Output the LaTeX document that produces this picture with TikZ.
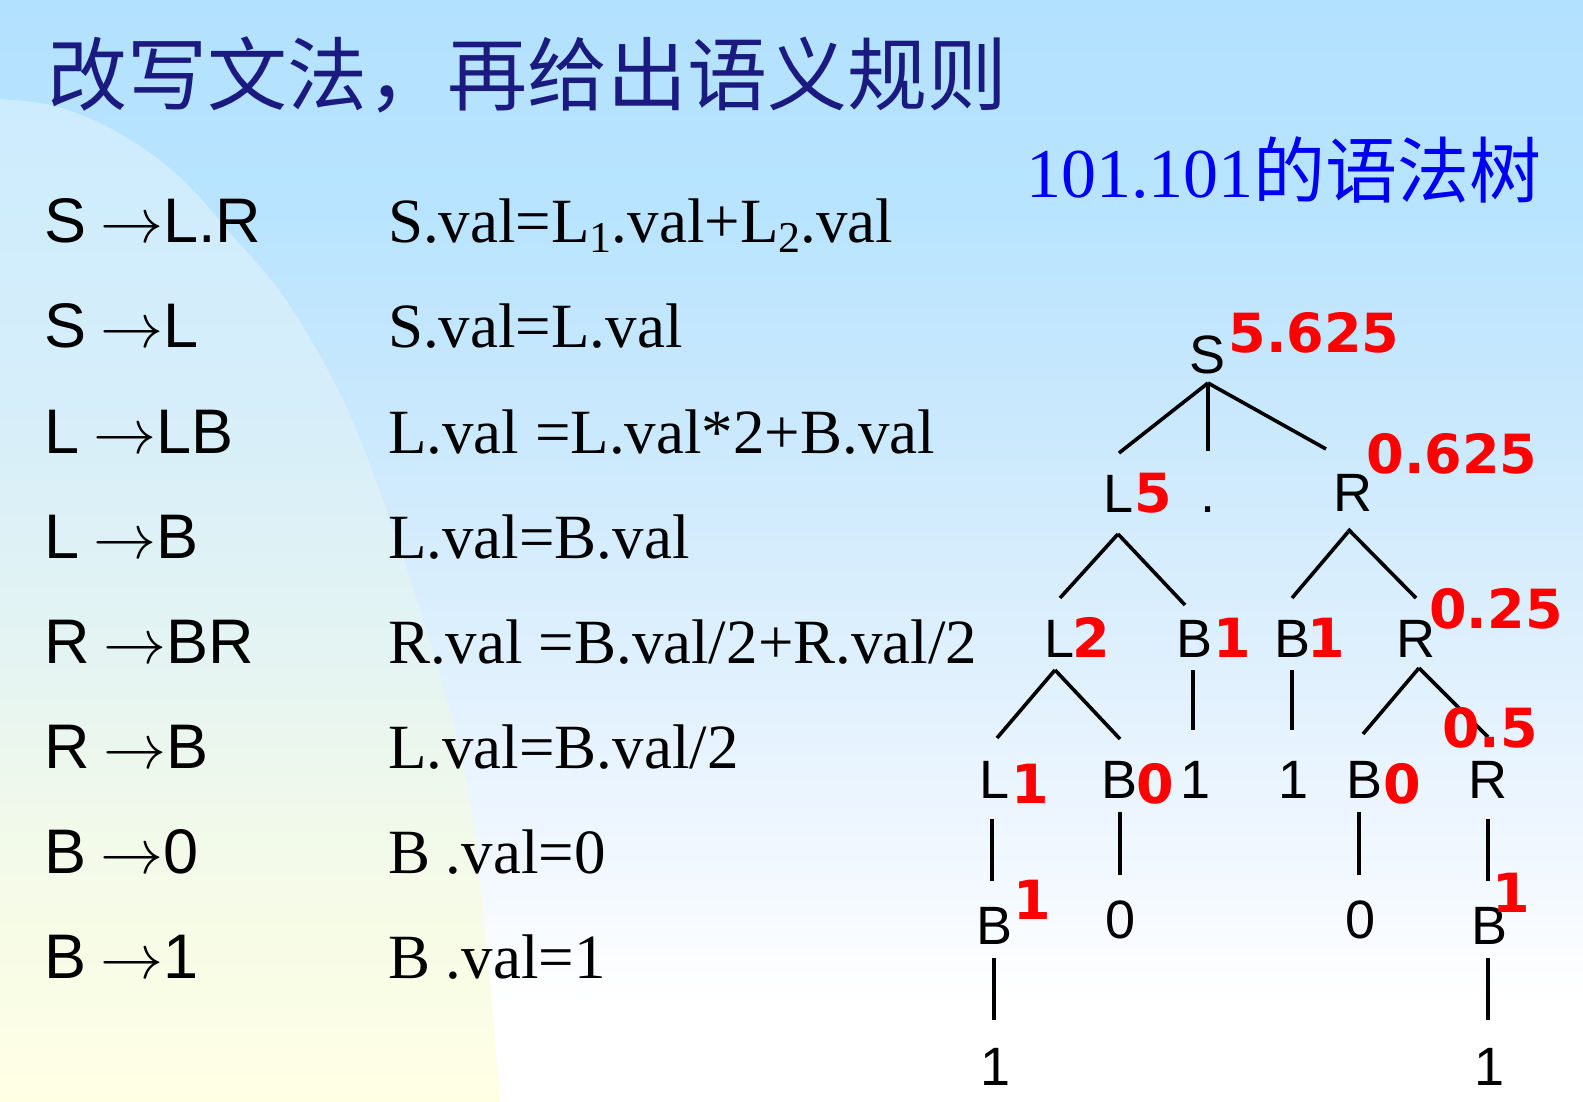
\documentclass[tikz,border=0pt]{standalone}
\usepackage{fontspec}
\setmainfont{Liberation Serif}
\newfontfamily\cjk{Noto Sans CJK SC}
\newfontfamily\arialf{Liberation Sans}
\newfontfamily\verdf{DejaVu Sans}
\usetikzlibrary{calc}
\definecolor{titlenavy}{RGB}{26,26,128}
\definecolor{treeblue}{RGB}{0,0,245}
\definecolor{bgG}{RGB}{178,225,255}
\definecolor{bgF}{RGB}{184,228,255}
\definecolor{bgE}{RGB}{200,232,253}
\definecolor{bgD}{RGB}{222,240,253}
\definecolor{bgC}{RGB}{240,247,255}
\definecolor{rgA}{RGB}{205,236,254}
\definecolor{rgB}{RGB}{214,238,250}
\definecolor{rgC}{RGB}{228,244,242}
\definecolor{rgD}{RGB}{243,250,233}
\definecolor{rgE}{RGB}{255,255,228}
\pgfdeclareverticalshading{bgshade}{100bp}{color(0bp)=(white); color(29.6bp)=(white); color(36.4bp)=(bgC); color(45.5bp)=(bgD); color(56.9bp)=(bgE); color(65.9bp)=(bgF); color(75bp)=(bgG); color(100bp)=(bgG)}
\pgfdeclareverticalshading{regshade}{100bp}{color(0bp)=(rgE); color(25bp)=(rgE); color(37.6bp)=(rgD); color(47.5bp)=(rgC); color(60bp)=(rgB); color(75bp)=(rgA); color(100bp)=(rgA)}
\newcommand{\subnum}[1]{\raisebox{-0.15em}{\fontsize{44}{44}\selectfont #1}}
\newcommand{\arr}{\hspace{0.22em}\scalebox{2.532}{\fontsize{24.88}{26}\selectfont$\rightarrow$}}
\tikzset{
  lhs/.style={anchor=base west, inner sep=0pt, font=\arialf\fontsize{63}{70}\selectfont},
  rhs/.style={anchor=base west, inner sep=0pt, font=\fontsize{63}{70}\selectfont},
  tl/.style={anchor=base, inner sep=0pt, font=\arialf\fontsize{54}{60}\selectfont},
  rv/.style={anchor=base, inner sep=0pt, text=red, font=\verdf\bfseries\fontsize{54}{60}\selectfont},
  treeline/.style={line width=3.6pt, black},
}
\begin{document}
\begin{tikzpicture}[x=1pt,y=-1pt]
\useasboundingbox (0,0) rectangle (1583,1102);
\shade[shading=bgshade] (0,0) rectangle (1583,1102);
\shade[shading=regshade] plot[smooth,tension=0.6] coordinates {(0,99) (50,105) (100,123) (150,153) (190,187) (230,233) (286,300) (343,400) (383,500) (417,600) (447,700) (470,800) (487,950) (500,1102)} -- (0,1102) -- cycle;

% titles
\node[anchor=west, inner sep=0pt, text=titlenavy, font=\cjk\fontsize{80}{90}\selectfont] (title) at (47,75) {改写文法，再给出语义规则};
\node[anchor=base west, inner sep=0pt, text=treeblue, font=\fontsize{70}{80}\selectfont] (treetitle) at (1026,198) {101.101{\cjk\fontsize{72}{80}\selectfont 的语法树}};

% productions
\node[lhs] (p1) at (44,243) {S\arr L.R};
\node[lhs] (p2) at (44,347) {S\arr L};
\node[lhs] (p3) at (44,453) {L\arr LB};
\node[lhs] (p4) at (44,558) {L\arr B};
\node[lhs] (p5) at (44,663) {R\arr BR};
\node[lhs] (p6) at (44,768) {R\arr B};
\node[lhs] (p7) at (44,873) {B\arr 0};
\node[lhs] (p8) at (44,978) {B\arr 1};

% semantic rules
\node[rhs] (r1) at (388,243) {S.val=L\subnum{1}.val+L\subnum{2}.val};
\node[rhs] (r2) at (388,347) {S.val=L.val};
\node[rhs] (r3) at (388,453) {L.val =L.val*2+B.val};
\node[rhs] (r4) at (388,558) {L.val=B.val};
\node[rhs] (r5) at (388,663) {R.val =B.val/2+R.val/2};
\node[rhs] (r6) at (388,768) {L.val=B.val/2};
\node[rhs] (r7) at (388,873) {B .val=0};
\node[rhs] (r8) at (388,978) {B .val=1};

% tree nodes
\node[tl] (S) at (1207,373) {S};
\node[tl] (L2n) at (1119,512) {L};
\node[tl] (dotn) at (1208,512) {.};
\node[tl] (R2n) at (1353,511) {R};
\node[tl] (L3n) at (1060,657) {L};
\node[tl] (B3a) at (1194,657) {B};
\node[tl] (B3b) at (1292,657) {B};
\node[tl] (R3n) at (1416,657) {R};
\node[tl] (L4n) at (995,798) {L};
\node[tl] (B4a) at (1119,798) {B};
\node[tl] (one4a) at (1196,798) {1};
\node[tl] (one4b) at (1294,798) {1};
\node[tl] (B4c) at (1364,798) {B};
\node[tl] (R4n) at (1488,798) {R};
\node[tl] (B5a) at (994,944) {B};
\node[tl] (zero5a) at (1121,938) {0};
\node[tl] (zero5b) at (1361,938) {0};
\node[tl] (B5b) at (1489,944) {B};
\node[tl] (one6a) at (996,1085) {1};
\node[tl] (one6b) at (1490,1085) {1};

% tree edges
\draw[treeline] ($(S.base)+(1,10)$) -- ($(L2n.base)+(0,-59)$);
\draw[treeline] ($(S.base)+(1,10)$) -- ($(dotn.base)+(0,-61)$);
\draw[treeline] ($(S.base)+(1,10)$) -- ($(R2n.base)+(-27,-62)$);
\draw[treeline] ($(L2n.base)+(-1,22)$) -- ($(L3n.base)+(0,-59)$);
\draw[treeline] ($(L2n.base)+(-1,22)$) -- ($(B3a.base)+(-9,-52)$);
\draw[treeline] ($(R2n.base)+(-5,21)$) -- ($(B3b.base)+(0,-59)$);
\draw[treeline] ($(R2n.base)+(-5,18)$) -- ($(R3n.base)+(0,-59)$);
\draw[treeline] ($(L3n.base)+(-5,13)$) -- ($(L4n.base)+(2,-60)$);
\draw[treeline] ($(L3n.base)+(-5,13)$) -- ($(B4a.base)+(1,-59)$);
\draw[treeline] ($(B3a.base)+(-1,13)$) -- ($(one4a.base)+(-3,-68)$);
\draw[treeline] ($(B3b.base)+(0,13)$) -- ($(one4b.base)+(-2,-68)$);
\draw[treeline] ($(R3n.base)+(3,11)$) -- ($(B4c.base)+(-1,-64)$);
\draw[treeline] ($(R3n.base)+(3,11)$) -- ($(R4n.base)+(0,-61)$);
\draw[treeline] ($(L4n.base)+(-3,21)$) -- ($(B5a.base)+(-2,-63)$);
\draw[treeline] ($(B4a.base)+(1,14)$) -- ($(zero5a.base)+(-1,-63)$);
\draw[treeline] ($(B4c.base)+(-5,14)$) -- ($(zero5b.base)+(-2,-63)$);
\draw[treeline] ($(R4n.base)+(0,21)$) -- ($(B5b.base)+(-1,-63)$);
\draw[treeline] ($(B5a.base)+(0,14)$) -- ($(one6a.base)+(-2,-65)$);
\draw[treeline] ($(B5b.base)+(-1,14)$) -- ($(one6b.base)+(-2,-65)$);

% attribute values
\node[rv] (vS) at (1314,352) {5.625};
\node[rv] (vL2) at (1153,512) {5};
\node[rv] (vR2) at (1452,473) {0.625};
\node[rv] (vL3) at (1091,657) {2};
\node[rv] (vB3a) at (1232,657) {1};
\node[rv] (vB3b) at (1326,657) {1};
\node[rv] (vR3) at (1496,628) {0.25};
\node[rv] (vL4) at (1030,803) {1};
\node[rv] (vB4a) at (1155,803) {0};
\node[rv] (vB4c) at (1402,803) {0};
\node[rv] (vR4) at (1490,747) {0.5};
\node[rv] (vB5a) at (1032,919) {1};
\node[rv] (vB5b) at (1511,912) {1};
\end{tikzpicture}
\end{document}
